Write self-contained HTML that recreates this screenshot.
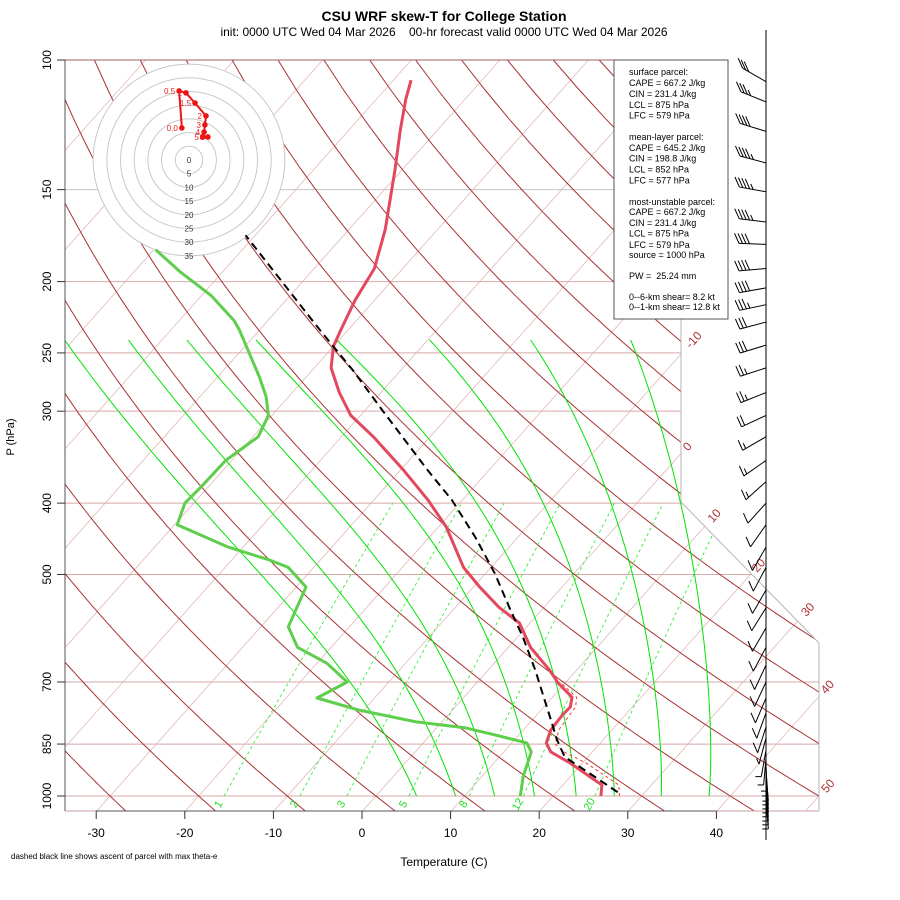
<!DOCTYPE html>
<html><head><meta charset="utf-8"><title>CSU WRF skew-T</title>
<style>
html,body{margin:0;padding:0;background:#fff;}
svg{display:block;font-family:"Liberation Sans",Arial,sans-serif;}
</style></head>
<body>
<svg id="chart" width="900" height="900" viewBox="0 0 900 900" xmlns="http://www.w3.org/2000/svg">
<defs>
<clipPath id="plotclip"><polygon points="65,60 681,60 681,502 819,643 819,811 65,811"/></clipPath>
</defs>
<rect x="0" y="0" width="900" height="900" fill="#fff"/>
<text x="444" y="21" text-anchor="middle" font-size="14" font-weight="bold">CSU WRF skew-T for College Station</text>
<text x="444" y="36" text-anchor="middle" font-size="12" xml:space="preserve">init: 0000 UTC Wed 04 Mar 2026    00-hr forecast valid 0000 UTC Wed 04 Mar 2026</text>
<g id="grid" clip-path="url(#plotclip)"></g>
<g id="frame">
<polyline points="681,60 681,502 819,643 819,811" fill="none" stroke="#b5b5b5" stroke-width="1"/>
<line x1="65" y1="60" x2="681" y2="60" stroke="#a06060" stroke-width="1"/>
</g>
<g id="hodo"></g>
<g id="profiles"></g>
<g id="axes"></g>
<g id="barbs"></g>
<g>
<rect x="614" y="60" width="114" height="259" fill="#fff" stroke="#555" stroke-width="1"/>
<g font-size="9" fill="#000">
<text x="629" y="75">surface parcel:</text>
<text x="629" y="86">CAPE = 667.2 J/kg</text>
<text x="629" y="97">CIN = 231.4 J/kg</text>
<text x="629" y="108">LCL = 875 hPa</text>
<text x="629" y="118.5">LFC = 579 hPa</text>
<text x="629" y="140">mean-layer parcel:</text>
<text x="629" y="151">CAPE = 645.2 J/kg</text>
<text x="629" y="161.5">CIN = 198.8 J/kg</text>
<text x="629" y="172.5">LCL = 852 hPa</text>
<text x="629" y="183.5">LFC = 577 hPa</text>
<text x="629" y="205">most-unstable parcel:</text>
<text x="629" y="215">CAPE = 667.2 J/kg</text>
<text x="629" y="226">CIN = 231.4 J/kg</text>
<text x="629" y="236.5">LCL = 875 hPa</text>
<text x="629" y="248">LFC = 579 hPa</text>
<text x="629" y="258">source = 1000 hPa</text>
<text x="629" y="279" xml:space="preserve">PW =  25.24 mm</text>
<text x="629" y="300">0--6-km shear= 8.2 kt</text>
<text x="629" y="310">0--1-km shear= 12.8 kt</text>
</g></g>
<text x="444" y="866" text-anchor="middle" font-size="12">Temperature (C)</text>
<text x="14" y="437" text-anchor="middle" font-size="11" transform="rotate(-90 14 437)">P (hPa)</text>
<text x="11" y="859" font-size="8">dashed black line shows ascent of parcel with max theta-e</text>
</svg>
<script>
// ---------- data ----------
const tempP = [1000,966,902,871,847,813,776,757,734,702,674,628,582,554,520,489,431,396,361,325,304,283,262,245,233,212,192,170,141,124.5,113,106.5];
const tempT = [25.4,24.4,18.6,15.3,13.9,13.1,12.9,13.0,12.2,9.2,6.9,2.5,-1.2,-5.1,-9.3,-13.1,-19.1,-23.9,-29.6,-36.4,-41.1,-44.7,-48.1,-50.0,-50.8,-52.2,-53.2,-55.9,-60.8,-64.2,-66.7,-68.0];
const dewP = [1000,942,871,847,826,808,793,764,736,700,660,628,589,520,489,478,459,428,400,380,350,325,304,287,270,233,226,209,194,181];
const dewT = [16.3,14.7,13.1,11.7,7.3,3.3,-2.9,-10.6,-16.5,-14.7,-18.9,-23.8,-26.9,-28.9,-32.9,-35.7,-41.7,-49.7,-51.0,-50.8,-50.7,-49.4,-50.4,-52.5,-55.2,-62.2,-63.8,-68.9,-74.8,-79.8];
const parcelP = [988,931,885,839,788,674,608,559,498,445,396,361,302,264,233,173];
const parcelT = [26.9,21.8,17.4,14.8,12.1,5.3,0.6,-3.5,-9.0,-14.8,-21.2,-26.9,-37.5,-45.4,-53.1,-71.1];
const tvP = [1000,966,902,871,850,813,776,757,734,702];
const tvT = [27.5,26.3,20.4,16.8,15.0,14.0,13.7,13.6,12.7,9.5];
const windP = [107,114,125,138,151,166,178,192,204,215,227,244,262,283,304,325,350,374,400,428,459,489,525,555,591,628,664,700,736,771,806,834,866,888,905,919,934,945,957,969,981,994,1006,1019];
const windDir = [300,292,287,285,280,277,272,265,260,258,255,253,252,248,245,240,235,228,222,215,210,208,210,212,210,208,205,205,203,200,198,195,190,185,178,176,175,175,175,175,175,175,175,175];
const windSpd = [30,35,40,45,45,45,40,40,40,35,30,30,25,25,20,15,15,15,10,10,10,10,10,10,10,10,10,10,10,10,10,5,5,5,5,5,5,5,5,5,5,5,5,5];
const hodoU = [-2.6,-3.6,-1.1,2.2,6.2,5.8,5.5,5.1,6.9];
const hodoV = [11.7,25.2,24.5,20.8,16.1,12.8,10.2,8.4,8.4];
const hodoLabels = ["0.0","0.5","1","1.5","2","3","4","5","6"];
const hodoRings = [0,5,10,15,20,25,30,35];
const pLevels = [100,150,200,250,300,400,500,700,850,1000];
const tTicks = [-30,-20,-10,0,10,20,30,40];
const isoLabelT = [-10,0,10,20,30,40,50];
const isoLabelP = [240,335,416,486,558,711,969];
const mixRatios = [1,2,3,5,8,12,20];
const moistStartT = [4.6,9.0,13.4,17.9,22.6,26.9,32.2,37.6];
const moistTopT = [-81.0,-73.8,-67.2,-59.4,-50.3,-39.8,-28.4,-17.1];

// ---------- scales ----------
const NS = "http://www.w3.org/2000/svg";
const X0 = 362, TX = 8.86, SK = 14.88, YS = 16.704;
function Yc(p){ return 132.182 - 44.061*Math.log10(p); }
const Y1050 = Yc(1050);
function py(p){ return 796 - YS*Yc(p); }
function tx(T,p){ return X0 + TX*T + SK*(Yc(p)-Y1050); }
function mk(parent, tag, attrs){ const e=document.createElementNS(NS,tag); for(const k in attrs) e.setAttribute(k,attrs[k]); parent.appendChild(e); return e; }
function ptsStr(arr){ return arr.map(q=>q[0].toFixed(1)+","+q[1].toFixed(1)).join(" "); }

const grid = document.getElementById("grid");
for(let T=-140; T<=60; T+=10){
  const l = mk(grid,"line",{x1:tx(T,1050),y1:py(1050),x2:tx(T,100),y2:py(100),stroke:"#e3b8b8","stroke-width":0.8});
  
  
}
for(const p of pLevels){
  const l = mk(grid,"line",{x1:65,y1:py(p),x2:830,y2:py(p),stroke:(p===150?"#c4c4c4":"#d9a9a9"),"stroke-width":1});
  
  
}
for(let th=-30; th<=200; th+=10){
  const a=[]; for(let p=1050;p>=100;p-=10){ a.push([tx((th+273.15)*Math.pow(p/1000,0.2857)-273.15,p),py(p)]); }
  const l = mk(grid,"polyline",{points:ptsStr(a),fill:"none",stroke:"#a83232","stroke-width":1});
  
  
}
function tdFromW(w,p){ const es=w*p/(622+w); const L=Math.log(es/6.112); return 243.5*L/(17.67-L); }
for(const w of mixRatios){
  const a=[]; for(let p=1000;p>=400;p-=10){ a.push([tx(tdFromW(w,p),p),py(p)]); }
  const l = mk(grid,"polyline",{points:ptsStr(a),fill:"none",stroke:"#33ee33","stroke-width":0.9,"stroke-dasharray":"3,3"});
  
  
}
moistStartT.forEach((T0,idx)=>{
  let T=T0+273.15; const ps=[], ts=[];
  for(let p=1000;p>=240;p-=5){
    ps.push(p); ts.push(T-273.15);
    const es=6.112*Math.exp(17.67*(T-273.15)/(T-29.65)); const rs=0.622*es/(p-es);
    const num=(287*T+2.501e6*rs)/p; const den=1004+(2.501e6*2.501e6*rs*0.622)/(287*T*T);
    T -= 5*num/den;
  }
  const err = ts[ts.length-1]-moistTopT[idx];
  const y0=Yc(1000), y1=Yc(ps[ps.length-1]);
  const a = ps.map((p,i)=>{ const f=(Yc(p)-y0)/(y1-y0); return [tx(ts[i]-err*Math.pow(f,1.5),p),py(p)]; });
  const l = mk(grid,"polyline",{points:ptsStr(a),fill:"none",stroke:"#00e400","stroke-width":1});
  
  
});
const ax = document.getElementById("axes");
isoLabelT.forEach((T,i)=>{
  const x=tx(T,isoLabelP[i]), y=py(isoLabelP[i]);
  const t = mk(ax,"text",{x:x,y:y+4,"text-anchor":"middle","font-size":12,fill:"#b03030",transform:"rotate(-48 "+x+" "+y+")"});
  t.textContent = String(T);
  
  
});
mixRatios.forEach(w=>{
  const x=tx(tdFromW(w,1000),1000)-6, y=804;
  const t = mk(ax,"text",{x:x,y:y+4,"text-anchor":"middle","font-size":11,fill:"#22dd22",transform:"rotate(-60 "+x+" "+y+")"});
  t.textContent = String(w);
  
  
});

// ---------- hodograph ----------
const hodo = document.getElementById("hodo");
const HC=[189,160], HS=2.74;
for(let k=hodoRings.length-1;k>=1;k--){
  const c = mk(hodo,"circle",{cx:HC[0],cy:HC[1],r:hodoRings[k]*HS,fill:(k===hodoRings.length-1?"#fff":"none"),stroke:"#c8c8c8","stroke-width":1});
  
  
}
hodoRings.forEach(r=>{
  const t = mk(hodo,"text",{x:HC[0],y:HC[1]+r*HS+3,"text-anchor":"middle","font-size":8,fill:"#333"});
  t.textContent = String(r);
  
  
});
const hp = hodoU.map((u,i)=>[HC[0]+u*HS, HC[1]-hodoV[i]*HS]);
const hl = mk(hodo,"polyline",{points:ptsStr(hp),fill:"none",stroke:"#ee1111","stroke-width":2});


hp.forEach((q,i)=>{
  const c = mk(hodo,"circle",{cx:q[0],cy:q[1],r:2.8,fill:"#ee1111"});
  
  
  const t = mk(hodo,"text",{x:q[0]-4,y:q[1]+3,"text-anchor":"end","font-size":8,fill:"#ee2222"});
  t.textContent = hodoLabels[i];
  
  
});

// ---------- profiles ----------
const prof = document.getElementById("profiles");
const tv = mk(prof,"polyline",{points:ptsStr(tvP.map((p,i)=>[tx(tvT[i],p),py(p)])),fill:"none",stroke:"#ff3333","stroke-width":1,"stroke-dasharray":"3,3"});


const tl = mk(prof,"polyline",{points:ptsStr(tempP.map((p,i)=>[tx(tempT[i],p),py(p)])),fill:"none",stroke:"#e2485e","stroke-width":3,"stroke-linejoin":"round"});


const dl = mk(prof,"polyline",{points:ptsStr(dewP.map((p,i)=>[tx(dewT[i],p),py(p)])),fill:"none",stroke:"#5fce4c","stroke-width":3,"stroke-linejoin":"round"});


const pl = mk(prof,"polyline",{points:ptsStr(parcelP.map((p,i)=>[tx(parcelT[i],p),py(p)])),fill:"none",stroke:"#000","stroke-width":2,"stroke-dasharray":"8,5"});



// ---------- axes ----------
const la = mk(ax,"line",{x1:65,y1:60,x2:65,y2:811,stroke:"#555","stroke-width":1});


const ba = mk(ax,"line",{x1:65,y1:811,x2:819,y2:811,stroke:"#c9a0a0","stroke-width":1});


const ba2 = mk(ax,"line",{x1:tx(tTicks[0],1050),y1:811,x2:tx(tTicks[tTicks.length-1],1050),y2:811,stroke:"#555","stroke-width":1});


pLevels.forEach(p=>{
  const y=py(p);
  const tk = mk(ax,"line",{x1:57,y1:y,x2:65,y2:y,stroke:"#333","stroke-width":1});
  
  
  const t = mk(ax,"text",{x:51,y:y,"text-anchor":"middle","font-size":12,fill:"#000",transform:"rotate(-90 51 "+y+")"});
  t.textContent = String(p);
  
  
});
tTicks.forEach(T=>{
  const x=tx(T,1050);
  const tk = mk(ax,"line",{x1:x,y1:811,x2:x,y2:819,stroke:"#333","stroke-width":1});
  
  
  const t = mk(ax,"text",{x:x,y:837,"text-anchor":"middle","font-size":12,fill:"#000"});
  t.textContent = String(T);
  
  
});

// ---------- wind barbs ----------
const bg = document.getElementById("barbs");
const pole = mk(bg,"line",{x1:766,y1:30,x2:766,y2:840,stroke:"#000","stroke-width":1});


windP.forEach((p,i)=>{
  const D=windDir[i]*Math.PI/180, L=27;
  const ux=Math.sin(D), uy=-Math.cos(D);
  const bx=766, by=py(p), tipx=bx+ux*L, tipy=by+uy*L;
  const g = mk(bg,"g",{stroke:"#000","stroke-width":1,fill:"none"});
  
  
  mk(g,"line",{x1:bx,y1:by,x2:tipx,y2:tipy});
  const sa = Math.atan2(uy,ux)*180/Math.PI; const saN = (sa+360)%360;
  const fa = (saN>=105 ? 246 : 180)*Math.PI/180;
  const fx=Math.cos(fa), fy=Math.sin(fa);
  let s=windSpd[i], k=0;
  while(s>=10){ const ox=tipx-ux*3.5*k, oy=tipy-uy*3.5*k; mk(g,"line",{x1:ox,y1:oy,x2:ox+fx*11,y2:oy+fy*11}); s-=10; k++; }
  if(s>=5){ const ox=tipx-ux*3.5*k, oy=tipy-uy*3.5*k; mk(g,"line",{x1:ox,y1:oy,x2:ox+fx*6,y2:oy+fy*6}); }
});
</script>
</body></html>
